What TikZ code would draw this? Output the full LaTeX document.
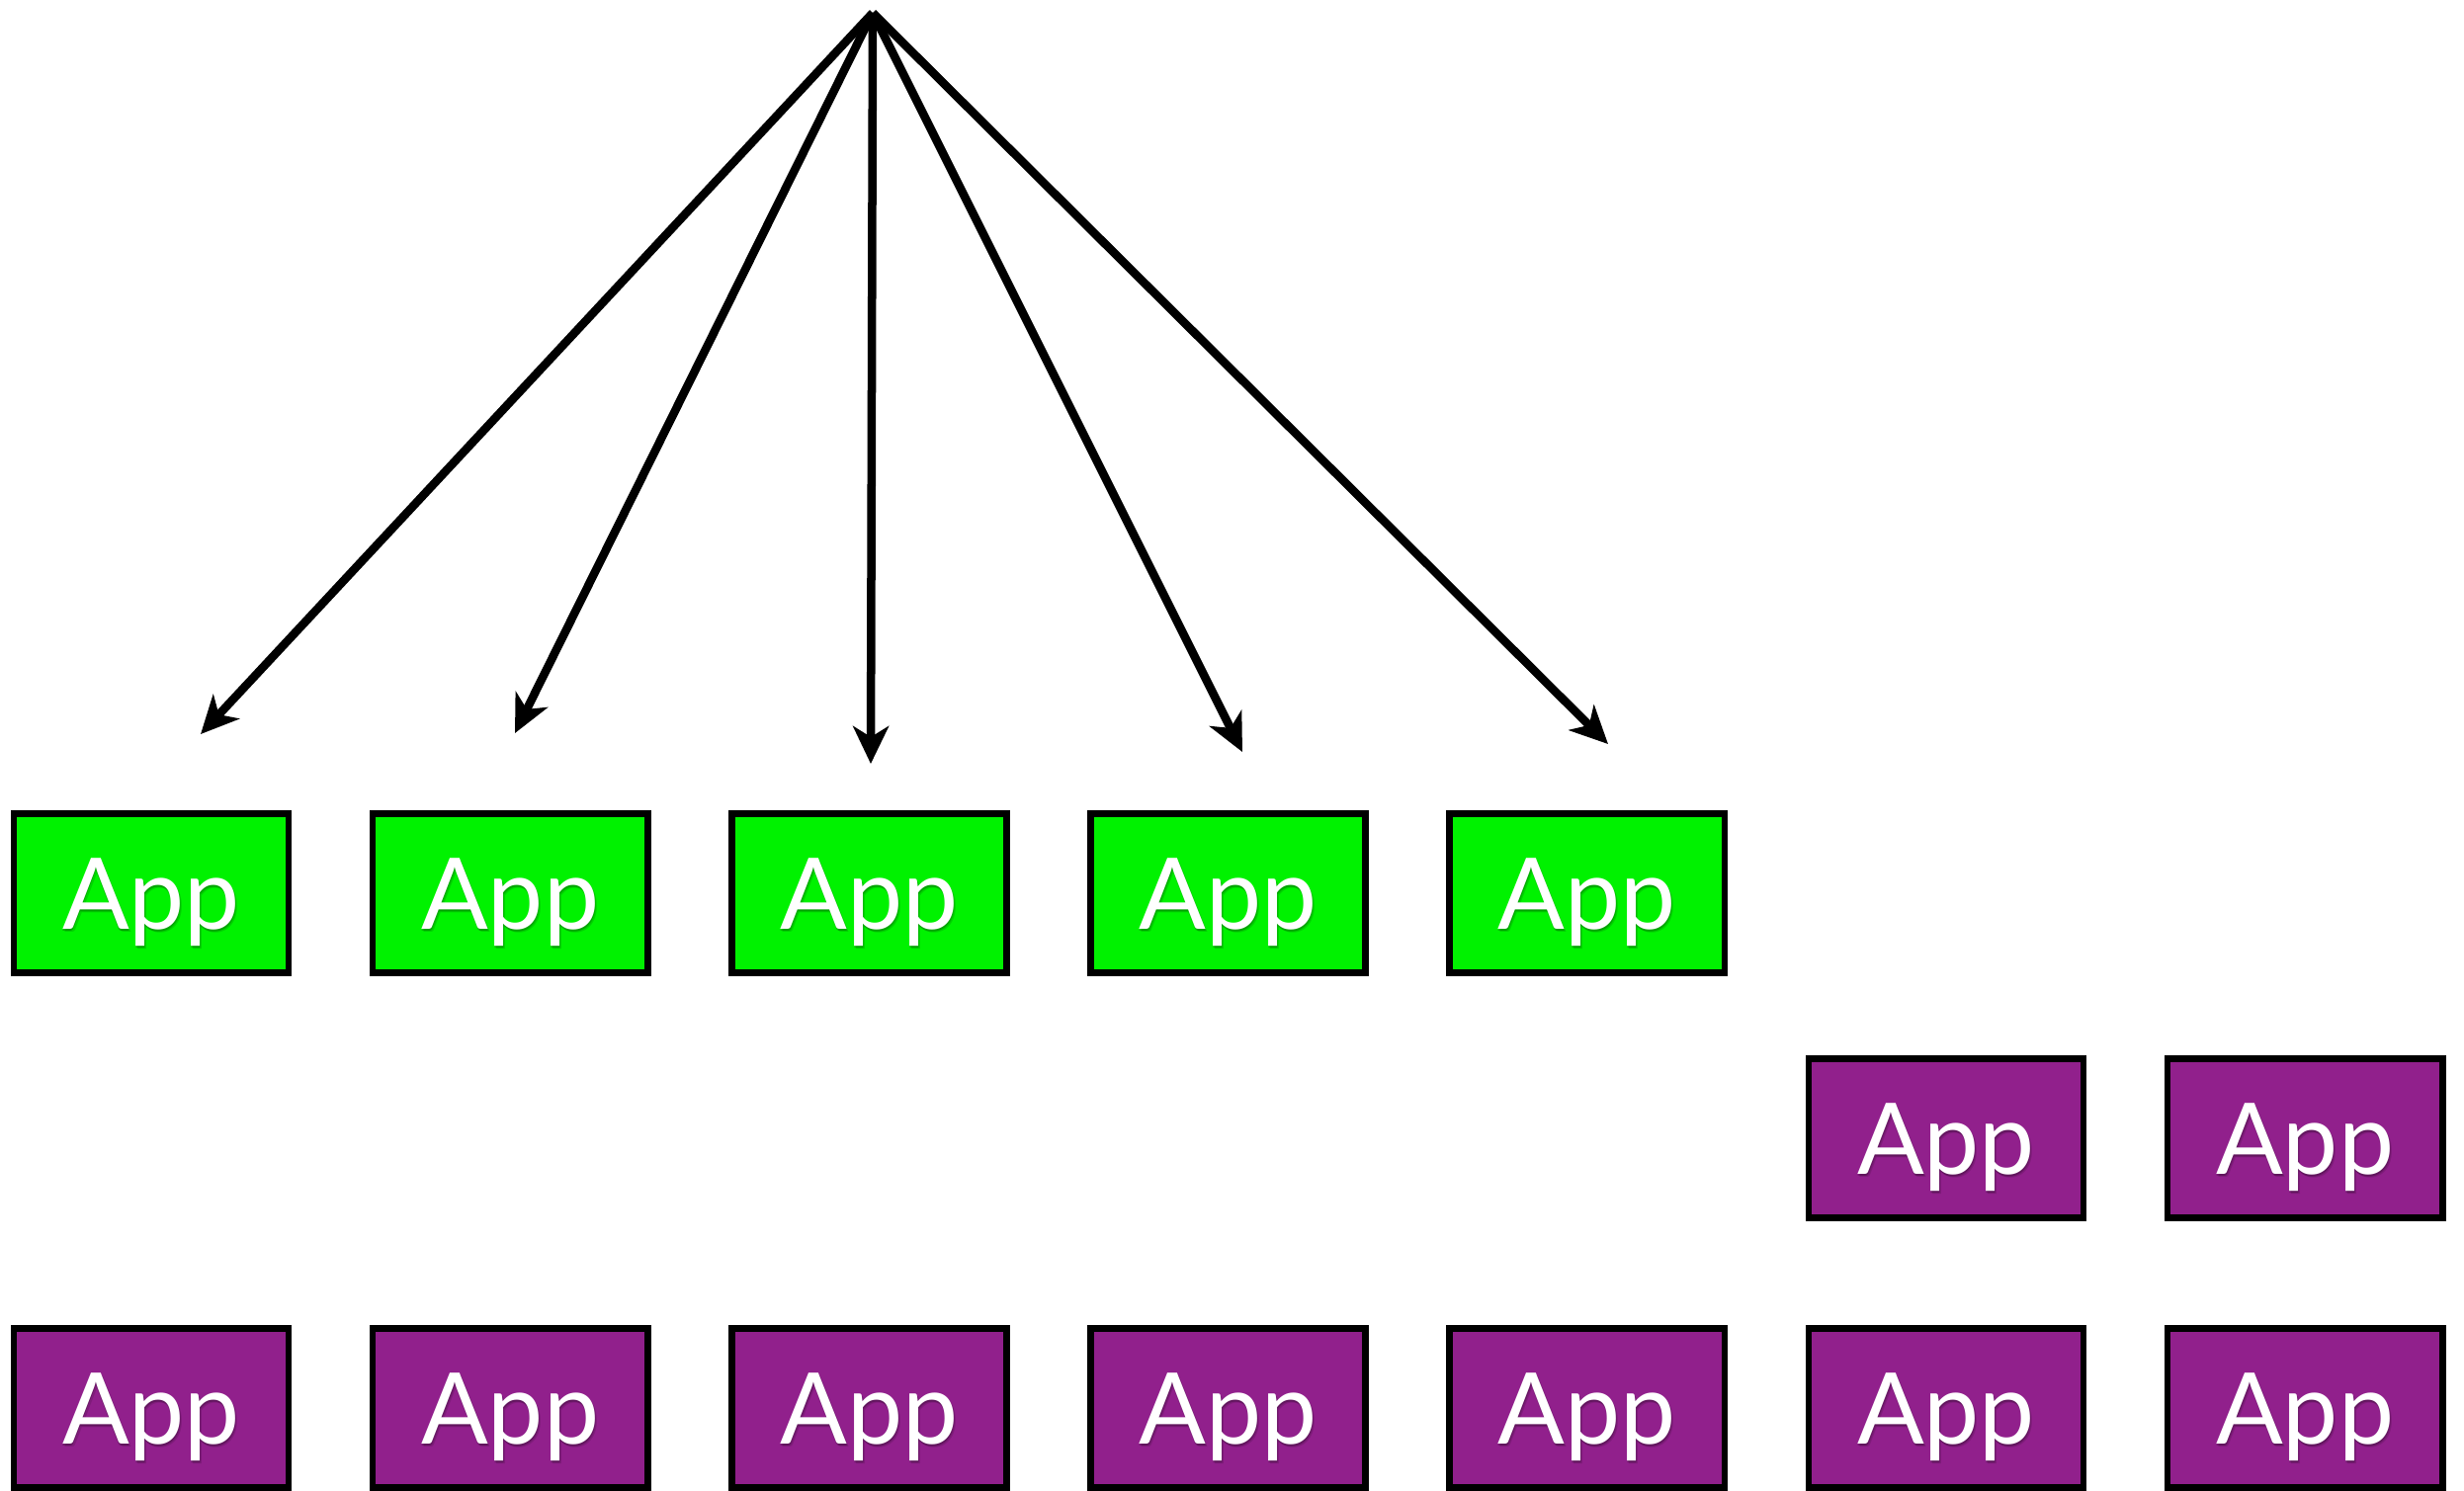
\documentclass[tikz,border=0pt]{standalone}
\usepackage{fontspec}
\setmainfont{Lato}
\usetikzlibrary{arrows.meta}
\definecolor{appgreen}{RGB}{0,242,0}
\definecolor{apppurple}{RGB}{145,32,140}
\begin{document}
\begin{tikzpicture}[x=0.01cm,y=-0.01cm,
  appbox/.style={draw=black, line width=0.065cm, minimum width=2.78cm,
    minimum height=1.61cm, inner sep=0pt, outer sep=0pt},
  apptext/.style={text=white, anchor=base, inner sep=0pt,
    font=\fontsize{28.5}{30}\selectfont},
  appshadow/.style={apptext, text=black, opacity=0.12},
  fanout/.style={line width=0.085cm, draw=black,
    -{Stealth[length=0.38cm, width=0.36cm, inset=0.11cm]}}]
\useasboundingbox (0,0) rectangle (2493,1508);

% application boxes: five green, two purple in the middle row, seven purple at the bottom
\foreach \i in {0,...,4}
  \node[appbox, fill=appgreen] (g\i) at ({153+363.2*\i},904) {};
\foreach \i in {5,6}
  \node[appbox, fill=apppurple] (m\i) at ({153+363.2*\i},1152) {};
\foreach \i in {0,...,6}
  \node[appbox, fill=apppurple] (b\i) at ({153+363.2*\i},1425) {};

% labels with a soft drop shadow
\foreach \n in {g0,g1,g2,g3,g4,m5,m6,b0,b1,b2,b3,b4,b5,b6} {
  \foreach \dx/\dy in {0.01/-0.38, 0.02/-0.39, 0.0/-0.385}
    \node[appshadow] at ([xshift=\dx cm,yshift=\dy cm]\n.center) {App};
  \node[apptext] at ([yshift=-0.36cm]\n.center) {App};
}

% fan of arrows from the source point
\coordinate (src) at (883,13);
\coordinate (t0) at (203,743);
\coordinate (t1) at (521,742);
\coordinate (t2) at (881,773);
\coordinate (t3) at (1257,761);
\coordinate (t4) at (1627,753);
\foreach \j in {0,...,4}
  \draw[fanout] (src) -- (t\j);
\end{tikzpicture}
\end{document}
